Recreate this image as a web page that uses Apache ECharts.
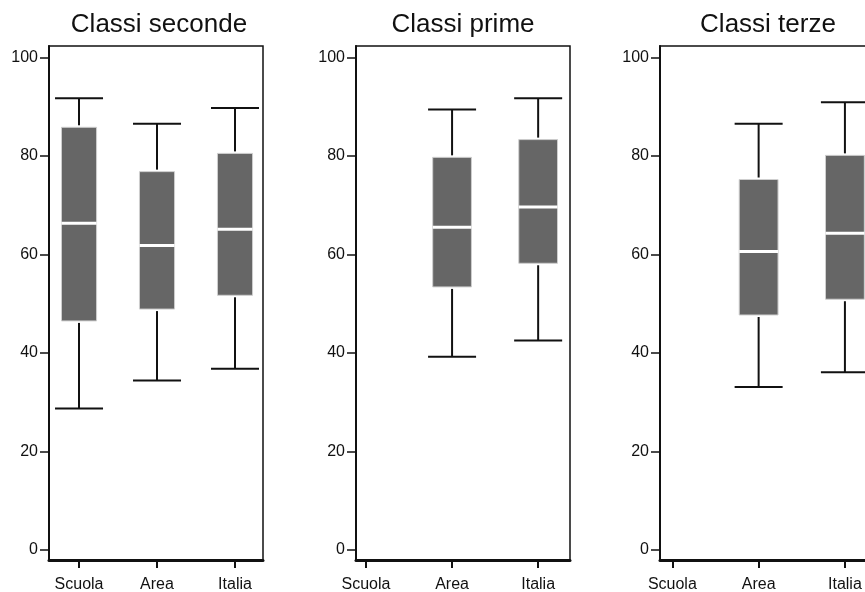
<!DOCTYPE html>
<html>
<head>
<meta charset="utf-8">
<script src="https://cdn.jsdelivr.net/npm/echarts@6/dist/echarts.min.js"></script>
<style>
  html, body { margin: 0; padding: 0; background: #fff; }
  #main { width: 865px; height: 592px; }
</style>
</head>
<body>
<div id="main"></div>
<script>
// dati: [min, Q1, mediana, Q3, max]
var categories = ['Scuola', 'Area', 'Italia']
var panelTitles = ['Classi seconde', 'Classi prime', 'Classi terze']
var yTicks = [0, 20, 40, 60, 80, 100]

var seconde = [
  [28.7, 46.5, 66.3, 85.8, 91.7],
  [34.4, 48.9, 61.8, 76.8, 86.5],
  [36.8, 51.7, 65.1, 80.5, 89.7]
]
var prime = [
  null,
  [39.2, 53.4, 65.5, 79.7, 89.4],
  [42.5, 58.2, 69.6, 83.3, 91.7]
]
var terze = [
  null,
  [33.1, 47.7, 60.6, 75.2, 86.5],
  [36.1, 50.9, 64.3, 80.1, 90.9]
]

var dom = document.getElementById('main')
var myChart = echarts.init(dom)

var font = 'Liberation Sans, Arial, sans-serif'

// layout dei tre pannelli
var panels = [
  { left: 49, xMin: 0.615, xMax: 3.359, titleX: 159, data: seconde },
  { left: 356, xMin: 0.884, xMax: 3.37, titleX: 463, data: prime },
  { left: 660, xMin: 0.857, xMax: 3.337, titleX: 768, data: terze }
]

function toSeries(list) {
  var out = []
  for (var i = 0; i < list.length; i++) {
    if (!list[i]) continue
    out.push([i + 1].concat(list[i]))
  }
  return out
}

function renderBox(params, api) {
  var x = api.value(0)
  var lo = api.coord([x, api.value(1)])
  var q1 = api.coord([x, api.value(2)])
  var md = api.coord([x, api.value(3)])
  var q3 = api.coord([x, api.value(4)])
  var hi = api.coord([x, api.value(5)])
  var hw = api.size([0.225, 0])[0]
  var cap = 24
  var cx = lo[0]
  var whisker = { stroke: '#111', lineWidth: 2 }
  return {
    type: 'group',
    children: [
      { type: 'line', shape: { x1: cx, y1: hi[1], x2: cx, y2: q3[1] - 2 }, style: whisker },
      { type: 'line', shape: { x1: cx, y1: q1[1] + 2, x2: cx, y2: lo[1] }, style: whisker },
      { type: 'line', shape: { x1: cx - cap, y1: hi[1], x2: cx + cap, y2: hi[1] }, style: whisker },
      { type: 'line', shape: { x1: cx - cap, y1: lo[1], x2: cx + cap, y2: lo[1] }, style: whisker },
      {
        type: 'rect',
        shape: { x: cx - hw, y: q3[1], width: hw * 2, height: q1[1] - q3[1] },
        style: { fill: '#666666', stroke: '#cfcfcf', lineWidth: 1 }
      },
      { type: 'line', shape: { x1: cx - hw, y1: md[1], x2: cx + hw, y2: md[1] }, style: { stroke: '#fff', lineWidth: 3 } }
    ]
  }
}

var option = {
  animation: false,
  title: [],
  grid: [],
  xAxis: [],
  yAxis: [],
  series: []
}

for (var p = 0; p < panels.length; p++) {
  var pn = panels[p]
  option.title.push({
    text: panelTitles[p],
    left: pn.titleX,
    top: 12,
    padding: 0,
    textAlign: 'center',
    textStyle: { fontFamily: font, fontSize: 26, fontWeight: 'normal', color: '#111' }
  })
  option.grid.push({
    left: pn.left,
    top: 46,
    width: 214,
    height: 514,
    outerBoundsMode: 'none',
    containLabel: false,
    show: true,
    borderColor: '#111',
    borderWidth: 1.5,
    backgroundColor: 'transparent'
  })
  option.xAxis.push({
    type: 'value',
    gridIndex: p,
    min: pn.xMin,
    max: pn.xMax,
    splitLine: { show: false },
    axisLine: { show: true, onZero: false, lineStyle: { color: '#111', width: 3 } },
    axisTick: { show: true, customValues: [1, 2, 3], length: 8, lineStyle: { color: '#111', width: 2 } },
    axisLabel: {
      customValues: [1, 2, 3],
      margin: 17,
      fontFamily: font,
      fontSize: 16,
      color: '#111',
      formatter: function (v) { return categories[Math.round(v) - 1] }
    }
  })
  option.yAxis.push({
    type: 'value',
    gridIndex: p,
    min: -2.03,
    max: 102.3,
    splitLine: { show: false },
    axisLine: { show: true, onZero: false, lineStyle: { color: '#111', width: 2 } },
    axisTick: { show: true, customValues: yTicks, length: 9, lineStyle: { color: '#111', width: 1.5 } },
    axisLabel: {
      customValues: yTicks,
      margin: 11,
      fontFamily: font,
      fontSize: 16,
      color: '#111'
    }
  })
  option.series.push({
    type: 'custom',
    xAxisIndex: p,
    yAxisIndex: p,
    renderItem: renderBox,
    encode: { x: 0, y: [1, 2, 3, 4, 5] },
    data: toSeries(pn.data)
  })
}

myChart.setOption(option)
window.addEventListener('resize', myChart.resize)
</script>
</body>
</html>
